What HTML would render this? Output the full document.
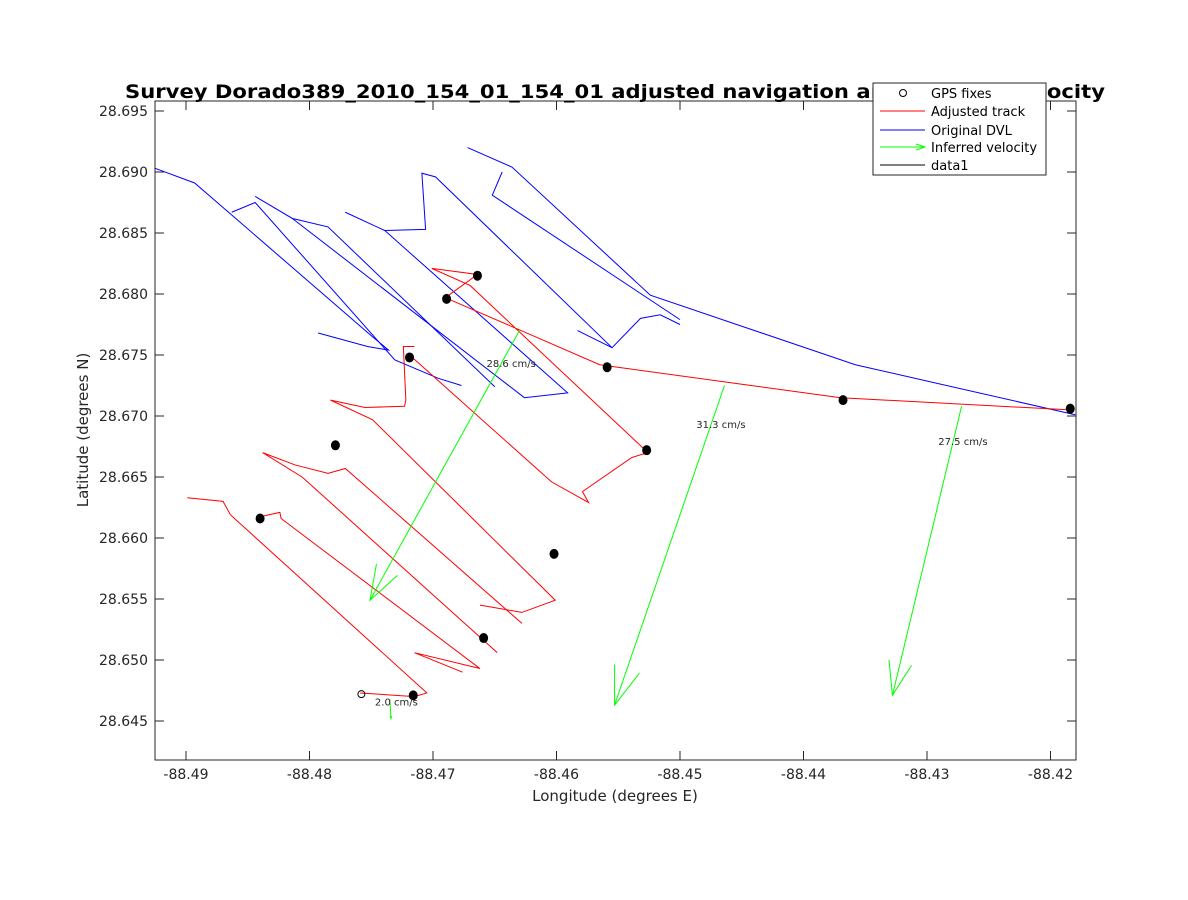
<!DOCTYPE html>
<html><head><meta charset="utf-8"><style>
body{margin:0;background:#fff}
svg{display:block;font-family:"DejaVu Sans","Liberation Sans",sans-serif}
</style></head><body>
<svg id="chart" width="1188" height="900" viewBox="0 0 1188 900">
<rect width="1188" height="900" fill="#fff"/>
<rect x="155" y="101" width="921" height="659" fill="#fff" stroke="#262626" stroke-width="1"/>
<g id="ticks"></g>
<g id="plot"></g>
<text x="125" y="98" textLength="980" lengthAdjust="spacingAndGlyphs" font-size="19" font-weight="bold" fill="#000" font-family="DejaVu Sans, sans-serif">Survey Dorado389_2010_154_01_154_01 adjusted navigation and inferred velocity</text>
<text x="615" y="801" text-anchor="middle" font-size="15" fill="#262626">Longitude (degrees E)</text>
<text transform="translate(88,430) rotate(-90)" text-anchor="middle" font-size="15" fill="#262626">Latitude (degrees N)</text>
<g>
<rect x="873" y="83" width="173" height="92" fill="#fff" stroke="#262626"/>
<circle cx="903" cy="93" r="3.5" fill="none" stroke="#000"/>
<text x="931" y="98" font-size="13">GPS fixes</text>
<line x1="880" y1="111" x2="925" y2="111" stroke="#f00"/>
<text x="931" y="116" font-size="13">Adjusted track</text>
<line x1="880" y1="130" x2="925" y2="130" stroke="#00f"/>
<text x="931" y="135" font-size="13">Original DVL</text>
<line x1="880" y1="147" x2="925" y2="147" stroke="#0f0"/>
<path d="M916 144 L925 147 L916 150" fill="none" stroke="#0f0"/>
<text x="931" y="152" font-size="13">Inferred velocity</text>
<line x1="880" y1="165" x2="925" y2="165" stroke="#000"/>
<text x="931" y="170" font-size="13">data1</text>
</g>
</svg>
<script>
const xTicks=[-88.49,-88.48,-88.47,-88.46,-88.45,-88.44,-88.43,-88.42];
const yTicks=[28.695,28.69,28.685,28.68,28.675,28.67,28.665,28.66,28.655,28.65,28.645];
const redTracks=[
[[-88.4899,28.6633],[-88.4870,28.6630],[-88.4864,28.6619],[-88.4705,28.6473],[-88.4715,28.6470],[-88.4759,28.6473]],
[[-88.4842,28.6617],[-88.4824,28.6621],[-88.4823,28.6616],[-88.4662,28.6493],[-88.4715,28.6506],[-88.4676,28.6490]],
[[-88.4648,28.6506],[-88.4806,28.6650],[-88.4838,28.6670],[-88.4812,28.6660],[-88.4785,28.6653],[-88.4771,28.6657],[-88.4628,28.6530]],
[[-88.4662,28.6545],[-88.4628,28.6539],[-88.4601,28.6549],[-88.4749,28.6697],[-88.4783,28.6713]],
[[-88.4783,28.6713],[-88.4755,28.6707],[-88.4723,28.6708],[-88.4722,28.6713],[-88.4724,28.6757],[-88.4715,28.6757]],
[[-88.4719,28.6750],[-88.4604,28.6646],[-88.4574,28.6629],[-88.4579,28.6638],[-88.4539,28.6666],[-88.4526,28.6670],[-88.4670,28.6807],[-88.4701,28.6821],[-88.4664,28.6816],[-88.4690,28.6797],[-88.4565,28.6742],[-88.4464,28.6728],[-88.4370,28.6715],[-88.4184,28.6705]]
];
const blueTracks=[
[[-88.4925,28.6903],[-88.4893,28.6891],[-88.4749,28.6765],[-88.4736,28.6754],[-88.4753,28.6757],[-88.4793,28.6768]],
[[-88.4863,28.6867],[-88.4844,28.6875],[-88.4731,28.6746],[-88.4696,28.6731],[-88.4677,28.6725]],
[[-88.4650,28.6724],[-88.4785,28.6855],[-88.4814,28.6862],[-88.4844,28.6880]],
[[-88.4814,28.6862],[-88.4626,28.6715],[-88.4591,28.6719],[-88.4739,28.6852],[-88.4771,28.6867]],
[[-88.4739,28.6852],[-88.4706,28.6853],[-88.4709,28.6899],[-88.4698,28.6896],[-88.4555,28.6756],[-88.4532,28.6780],[-88.4516,28.6783],[-88.4500,28.6775]],
[[-88.4583,28.6770],[-88.4555,28.6756]],
[[-88.4672,28.6920],[-88.4636,28.6904],[-88.4524,28.6799],[-88.4358,28.6742],[-88.4180,28.6701]],
[[-88.4644,28.6900],[-88.4652,28.6881],[-88.4500,28.6779]]
];
const gpsLon=[-88.4664,-88.4689,-88.4719,-88.4559,-88.4368,-88.4184,-88.4527,-88.4779,-88.4840,-88.4602,-88.4659,-88.4716];
const gpsLat=[28.6815,28.6796,28.6748,28.6740,28.6713,28.6706,28.6672,28.6676,28.6616,28.6587,28.6518,28.6471];
const openGps=[[-88.4758,28.6472]];
const velStartLon=[-88.4630,-88.4464,-88.4272,-88.4735];
const velStartLat=[28.6770,28.6725,28.6708,28.6468];
const velEndLon=[-88.4751,-88.4553,-88.4328,-88.4734];
const velEndLat=[28.6549,28.6463,28.6471,28.6452];
const velLabels=["28.6 cm/s","31.3 cm/s","27.5 cm/s","2.0 cm/s"];

const X=v=>186+(v+88.49)*12350;
const Y=v=>111+(28.695-v)*12200;
const NS="http://www.w3.org/2000/svg";
const plot=document.getElementById('plot'),tk=document.getElementById('ticks');
function mk(tag,at,parent){const e=document.createElementNS(NS,tag);for(const k in at)e.setAttribute(k,at[k]);parent.appendChild(e);return e;}
xTicks.forEach(t=>{const x=X(t);
 const l=mk('path',{d:`M${x} 760v-9M${x} 101v9`,stroke:'#262626'},tk);
 
 
 const s=mk('text',{x:x,y:779,'text-anchor':'middle','font-size':14,fill:'#262626'},tk);s.textContent=t.toFixed(2);
 
 });
yTicks.forEach(t=>{const y=Y(t);
 const l=mk('path',{d:`M155 ${y}h9M1076 ${y}h-9`,stroke:'#262626'},tk);
 
 
 const s=mk('text',{x:148,y:y+5,'text-anchor':'end','font-size':14,fill:'#262626'},tk);s.textContent=t.toFixed(3);
 
 });
blueTracks.forEach(tr=>{const p=mk('polyline',{points:tr.map(q=>X(q[0])+','+Y(q[1])).join(' '),fill:'none',stroke:'#00f','stroke-width':1},plot);
 
 });
redTracks.forEach(tr=>{const p=mk('polyline',{points:tr.map(q=>X(q[0])+','+Y(q[1])).join(' '),fill:'none',stroke:'#f00','stroke-width':1},plot);
 
 });
gpsLon.forEach((lo,i)=>{const c=mk('ellipse',{cx:X(lo),cy:Y(gpsLat[i]),rx:4.5,ry:5,fill:'#000'},plot);
 
 });
openGps.forEach(q=>{const c=mk('circle',{cx:X(q[0]),cy:Y(q[1]),r:3.5,fill:'none',stroke:'#000'},plot);
 
 });
velStartLon.forEach((lo,i)=>{
 const x1=X(lo),y1=Y(velStartLat[i]),x2=X(velEndLon[i]),y2=Y(velEndLat[i]);
 const dx=x2-x1,dy=y2-y1,L=Math.hypot(dx,dy),h=L*0.12,a=Math.atan2(dy,dx),s=0.33;
 const hx1=x2-h*Math.cos(a-s),hy1=y2-h*Math.sin(a-s),hx2=x2-h*Math.cos(a+s),hy2=y2-h*Math.sin(a+s);
 const p=mk('path',{d:`M${x1} ${y1}L${x2} ${y2}M${hx1} ${hy1}L${x2} ${y2}L${hx2} ${hy2}`,fill:'none',stroke:'#0f0','stroke-width':1},plot);
 
 
 const t=mk('text',{x:x1+dx*0.12-15,y:y1+dy*0.12+4,'font-size':10,fill:'#262626'},plot);t.textContent=velLabels[i];
 
 
});
</script>
</body></html>
